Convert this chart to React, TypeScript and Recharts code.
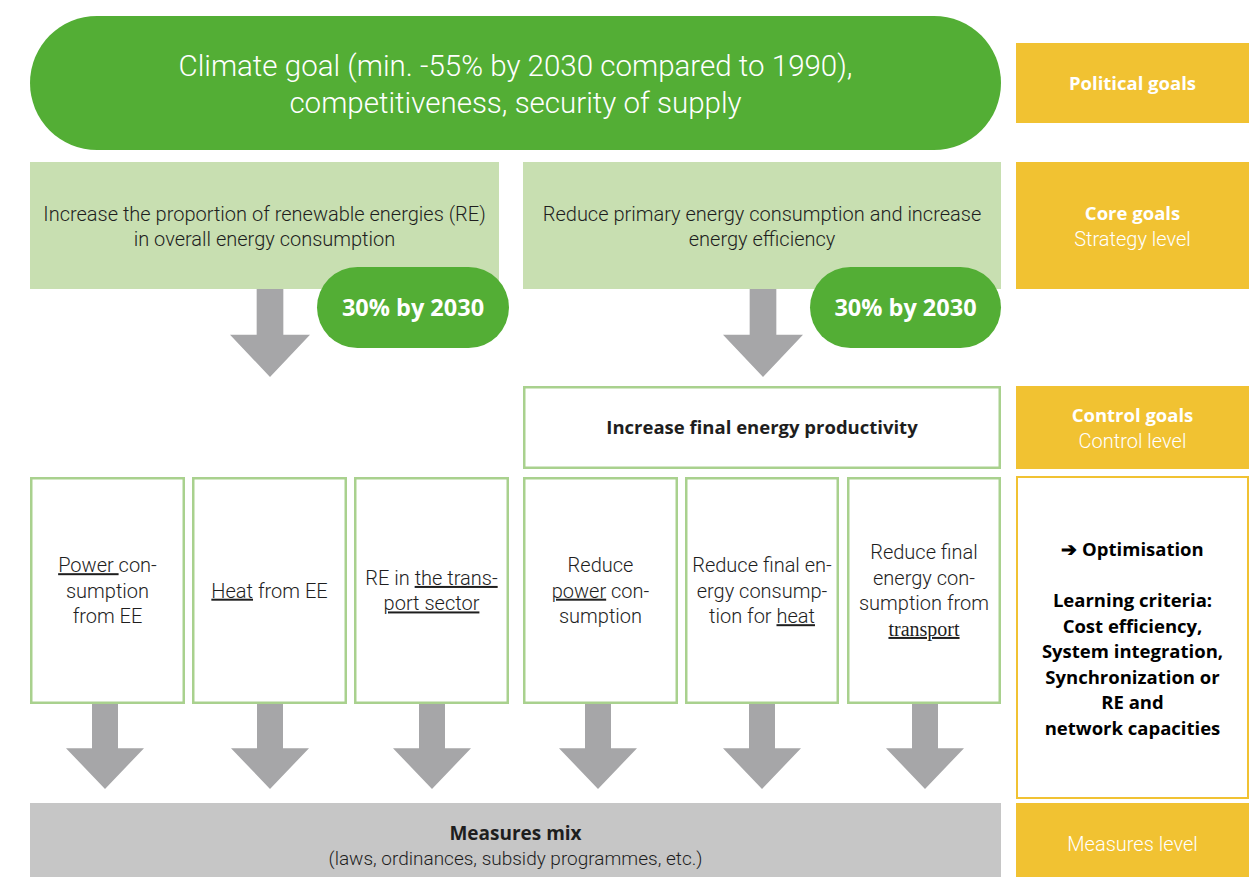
import React from 'react';
import { ComposedChart, XAxis, YAxis, ReferenceArea } from 'recharts';

// canvas in pixel-like units, axes are hidden and only used for positioning
const W = 1249;
const H = 877;

const LIGHT = 'Roboto, "Noto Sans", sans-serif';
const BOLD = '"Open Sans", "Noto Sans", sans-serif';

type Seg = { t: string; u?: boolean; serif?: boolean };
type Line = (string | Seg)[];

// ---- texts ----
const goalText = ['Climate goal (min. -55% by 2030 compared to 1990),', 'competitiveness, security of supply'];
const coreGoals = [
  ['Increase the proportion of renewable energies (RE)', 'in overall energy consumption'],
  ['Reduce primary energy consumption and increase', 'energy efficiency'],
];
const targets = ['30% by 2030', '30% by 2030'];
const controlGoal = 'Increase final energy productivity';
const fields: Line[][] = [
  [[{ t: 'Power ', u: true }, 'con-'], ['sumption'], ['from EE']],
  [[{ t: 'Heat', u: true }, ' from EE']],
  [['RE in ', { t: 'the trans-', u: true }], [{ t: 'port sector', u: true }]],
  [['Reduce'], [{ t: 'power', u: true }, ' con-'], ['sumption']],
  [['Reduce final en-'], ['ergy consump-'], ['tion for ', { t: 'heat', u: true }]],
  [['Reduce final'], ['energy con-'], ['sumption from'], [{ t: 'transport', u: true, serif: true }]],
];
const measuresText = ['Measures mix', '(laws, ordinances, subsidy programmes, etc.)'];
const levelTitles = ['Political goals', 'Core goals', 'Control goals', ''];
const levelSubtitles = ['', 'Strategy level', 'Control level', 'Measures level'];
const criteria = ['\u2794 Optimisation', '', 'Learning criteria:', 'Cost efficiency,', 'System integration,', 'Synchronization or', 'RE and', 'network capacities'];

// ---- layout (diagram units) ----
const goalX = [30, 1001];
const goalY = [16, 150];
const coreX = [[30, 499], [523, 1001]];
const coreY = [162, 289];
const targetX = [[317, 509], [810, 1001]];
const targetY = [267, 348];
const coreArrowX = [270, 763];
const coreArrowY = [289, 377];
const controlX = [523, 1001];
const controlY = [386, 469];
const fieldX = [[30, 185], [192, 347], [354, 509], [523, 678], [685, 839], [847, 1001]];
const fieldY = [477, 704];
const fieldArrowX = [105, 270, 432, 598, 762, 925];
const fieldArrowY = [704, 789];
const measuresX = [30, 1001];
const measuresY = [803, 877];
const levelX = [1016, 1249];
const levelY = [[43, 123], [162, 289], [386, 469], [803, 877]];
const criteriaY = [476, 799];

const C = {
  green: '#53ae35',
  lightGreen: '#c8dfb1',
  border: '#a9d18e',
  yellow: '#f1c232',
  arrow: '#a6a6a8',
  gray: '#c6c6c6',
  text: '#1e1e1e',
};

function TextLines({ cx, cy, lines, size, lh, color, weight = 400, family = LIGHT }: any) {
  const n = lines.length;
  return (
    <text textAnchor="middle" fontSize={size} fill={color} fontWeight={weight} fontFamily={family}>
      {lines.map((line: Line | string, i: number) => {
        const segs = typeof line === 'string' ? [line] : line;
        const y = cy + (i - (n - 1) / 2) * lh + size * 0.36;
        return (
          <tspan key={i} x={cx} y={y}>
            {segs.map((s, j) =>
              typeof s === 'string' ? (
                <tspan key={j}>{s}</tspan>
              ) : (
                <tspan
                  key={j}
                  textDecoration={s.u ? 'underline' : undefined}
                  style={{ textDecoration: s.u ? 'underline' : undefined }}
                  fontFamily={s.serif ? '"Liberation Serif", "DejaVu Serif", serif' : undefined}
                >
                  {s.t}
                </tspan>
              )
            )}
          </tspan>
        );
      })}
    </text>
  );
}

const box =
  (fill: string, stroke: string | null, sw: number, round: boolean, content?: (cx: number, cy: number) => React.ReactNode) =>
  (p: any) => {
    const { x, y, width, height } = p;
    const inset = stroke ? sw / 2 : 0;
    const r = round ? height / 2 : 0;
    return (
      <g>
        <rect
          x={x + inset}
          y={y + inset}
          width={width - 2 * inset}
          height={height - 2 * inset}
          rx={r}
          ry={r}
          fill={fill}
          stroke={stroke || 'none'}
          strokeWidth={sw}
        />
        {content && content(x + width / 2, y + height / 2)}
      </g>
    );
  };

const arrowShape = (p: any) => {
  const { x, y, width, height } = p;
  const cx = x + width / 2;
  const shaft = width / 3;
  const headY = y + height * 0.52;
  const pts = [
    [cx - shaft / 2, y],
    [cx + shaft / 2, y],
    [cx + shaft / 2, headY],
    [x + width, headY],
    [cx, y + height],
    [x, headY],
    [cx - shaft / 2, headY],
  ];
  return <polygon points={pts.map((q) => q.join(',')).join(' ')} fill={C.arrow} />;
};

export default function App() {
  return (
    <div style={{ width: W, height: H, background: '#fff' }}>
      <style>{'body{margin:0}'}</style>
      <ComposedChart width={W} height={H} margin={{ top: 0, right: 0, bottom: 0, left: 0 }} data={[]}>
        <XAxis type="number" dataKey="x" domain={[0, W]} hide allowDataOverflow />
        <YAxis type="number" dataKey="y" domain={[0, H]} reversed hide allowDataOverflow />

        {/* political goal */}
        <ReferenceArea
          x1={goalX[0]}
          x2={goalX[1]}
          y1={goalY[0]}
          y2={goalY[1]}
          shape={box(C.green, null, 0, true, (cx, cy) => (
            <TextLines cx={cx} cy={cy + 1} lines={goalText} size={29.5} lh={37} color="#fff" weight={300} />
          ))}
        />

        {/* core goals */}
        {coreGoals.map((lines, i) => (
          <ReferenceArea
            key={'core' + i}
            x1={coreX[i][0]}
            x2={coreX[i][1]}
            y1={coreY[0]}
            y2={coreY[1]}
            shape={box(C.lightGreen, null, 0, false, (cx) => (
              <TextLines cx={cx} cy={226.5} lines={lines} size={20} lh={25} color={C.text} weight={300} />
            ))}
          />
        ))}
        {coreArrowX.map((ax, i) => (
          <ReferenceArea key={'ca' + i} x1={ax - 40} x2={ax + 40} y1={coreArrowY[0]} y2={coreArrowY[1]} shape={arrowShape} />
        ))}
        {targets.map((t, i) => (
          <ReferenceArea
            key={'t' + i}
            x1={targetX[i][0]}
            x2={targetX[i][1]}
            y1={targetY[0]}
            y2={targetY[1]}
            shape={box(C.green, null, 0, true, (cx, cy) => (
              <TextLines cx={cx} cy={cy} lines={[t]} size={23.5} lh={25} color="#fff" weight={700} family={BOLD} />
            ))}
          />
        ))}

        {/* control goal */}
        <ReferenceArea
          x1={controlX[0]}
          x2={controlX[1]}
          y1={controlY[0]}
          y2={controlY[1]}
          shape={box('#fff', C.border, 2.5, false, (cx, cy) => (
            <TextLines cx={cx} cy={cy} lines={[controlGoal]} size={18.5} lh={25} color={C.text} weight={700} family={BOLD} />
          ))}
        />

        {/* fields */}
        {fields.map((lines, i) => (
          <ReferenceArea
            key={'f' + i}
            x1={fieldX[i][0]}
            x2={fieldX[i][1]}
            y1={fieldY[0]}
            y2={fieldY[1]}
            shape={box('#fff', C.border, 2.5, false, (cx, cy) => (
              <TextLines cx={cx} cy={cy} lines={lines} size={20} lh={25.5} color={C.text} weight={300} />
            ))}
          />
        ))}
        {fieldArrowX.map((ax, i) => (
          <ReferenceArea key={'fa' + i} x1={ax - 39} x2={ax + 39} y1={fieldArrowY[0]} y2={fieldArrowY[1]} shape={arrowShape} />
        ))}

        {/* measures */}
        <ReferenceArea
          x1={measuresX[0]}
          x2={measuresX[1]}
          y1={measuresY[0]}
          y2={measuresY[1]}
          shape={box(C.gray, null, 0, false, (cx) => (
            <g>
              <TextLines cx={cx} cy={833} lines={[measuresText[0]]} size={19} lh={25} color={C.text} weight={700} family={BOLD} />
              <TextLines cx={cx} cy={858} lines={[measuresText[1]]} size={19} lh={25} color={C.text} weight={300} />
            </g>
          ))}
        />

        {/* level column */}
        {levelY.map((ly, i) => (
          <ReferenceArea
            key={'l' + i}
            x1={levelX[0]}
            x2={levelX[1]}
            y1={ly[0]}
            y2={ly[1]}
            shape={box(C.yellow, null, 0, false, (cx, cy) => (
              <g>
                {levelTitles[i] && (
                  <TextLines
                    cx={cx}
                    cy={levelSubtitles[i] ? cy - 12.5 : cy}
                    lines={[levelTitles[i]]}
                    size={18.5}
                    lh={25}
                    color="#fff"
                    weight={700}
                    family={BOLD}
                  />
                )}
                {levelSubtitles[i] && (
                  <TextLines
                    cx={cx}
                    cy={levelTitles[i] ? cy + 13 : cy + 4}
                    lines={[levelSubtitles[i]]}
                    size={20}
                    lh={25}
                    color="#fff"
                    weight={300}
                  />
                )}
              </g>
            ))}
          />
        ))}
        <ReferenceArea
          x1={levelX[0]}
          x2={levelX[1]}
          y1={criteriaY[0]}
          y2={criteriaY[1]}
          shape={box('#fff', C.yellow, 2, false, (cx) => (
            <TextLines cx={cx} cy={639} lines={criteria} size={18.5} lh={25.5} color="#000" weight={700} family={BOLD} />
          ))}
        />
      </ComposedChart>
    </div>
  );
}
